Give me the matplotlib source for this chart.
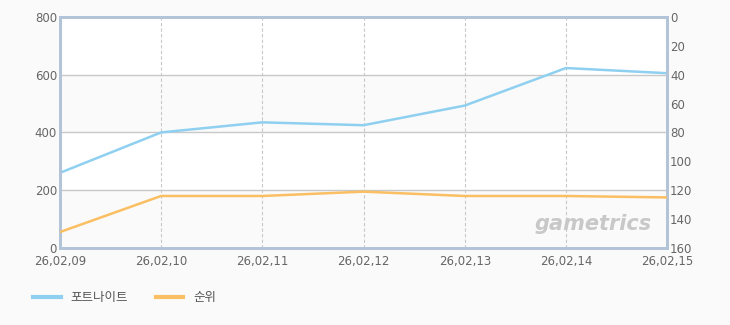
import matplotlib
matplotlib.use("Agg")
import matplotlib.pyplot as plt
from matplotlib.lines import Line2D

plt.rcParams['font.family'] = ['Noto Sans CJK KR', 'DejaVu Sans']

dates = ["26,02,09", "26,02,10", "26,02,11", "26,02,12", "26,02,13", "26,02,14", "26,02,15"]
users = [260, 400, 435, 425, 493, 623, 605]
rank = [149, 124, 124, 121, 124, 124, 125]

blue = "#8fd0f0"
orange = "#fbbf63"
spine_c = "#b4c4d8"
tick_c = "#666666"

fig = plt.figure(figsize=(7.3, 3.25), dpi=100)
fig.patch.set_facecolor("#fafafa")
ax = fig.add_axes([0.082, 0.237, 0.832, 0.711])
ax.set_facecolor("#ffffff")
x = list(range(len(dates)))

# alternating bands
for lo, hi, c in [(0, 200, "#fafafa"), (200, 400, "#ffffff"), (400, 600, "#fafafa"), (600, 800, "#ffffff")]:
    ax.axhspan(lo, hi, color=c, zorder=0, lw=0)

ax.set_xlim(0, len(dates) - 1)
ax.set_ylim(0, 800)
ax.set_yticks([0, 200, 400, 600, 800])
ax.set_xticks(x)
ax.set_xticklabels(dates)
for v in [200, 400, 600]:
    ax.axhline(v, color="#c8c8c8", lw=1, zorder=1)
for xi in x[1:-1]:
    ax.axvline(xi, color="#c8c8c8", lw=0.8, ls=(0, (3, 2)), zorder=1)

ax.plot(x, users, color=blue, lw=1.8, zorder=3)

ax2 = ax.twinx()
ax2.set_ylim(160, 0)
ax2.set_yticks([0, 20, 40, 60, 80, 100, 120, 140, 160])
ax2.plot(x, rank, color=orange, lw=1.8, zorder=3)

for a in (ax, ax2):
    for s in a.spines.values():
        s.set_color(spine_c)
        s.set_linewidth(2)
    a.tick_params(colors=tick_c, labelsize=8.5, length=0, pad=2)
    for lbl in a.get_xticklabels() + a.get_yticklabels():
        lbl.set_fontfamily("DejaVu Sans")
        lbl.set_color(tick_c)
ax.tick_params(axis="x", pad=5)

ax.text(0.975, 0.06, "gametrics", transform=ax.transAxes, ha="right", va="bottom",
        fontsize=15, fontweight="bold", style="italic", color="#c8c8c8", family="DejaVu Sans", zorder=2)

handles = [Line2D([], [], color=blue, lw=3), Line2D([], [], color=orange, lw=3)]
fig.legend(handles, ["포트나이트", "순위"], loc="lower left", bbox_to_anchor=(0.03, 0.03),
           ncol=2, frameon=False, fontsize=9, handlelength=2.2, columnspacing=2.2,
           labelcolor="#555555")

fig.savefig("out.png", dpi=100, facecolor=fig.get_facecolor())
